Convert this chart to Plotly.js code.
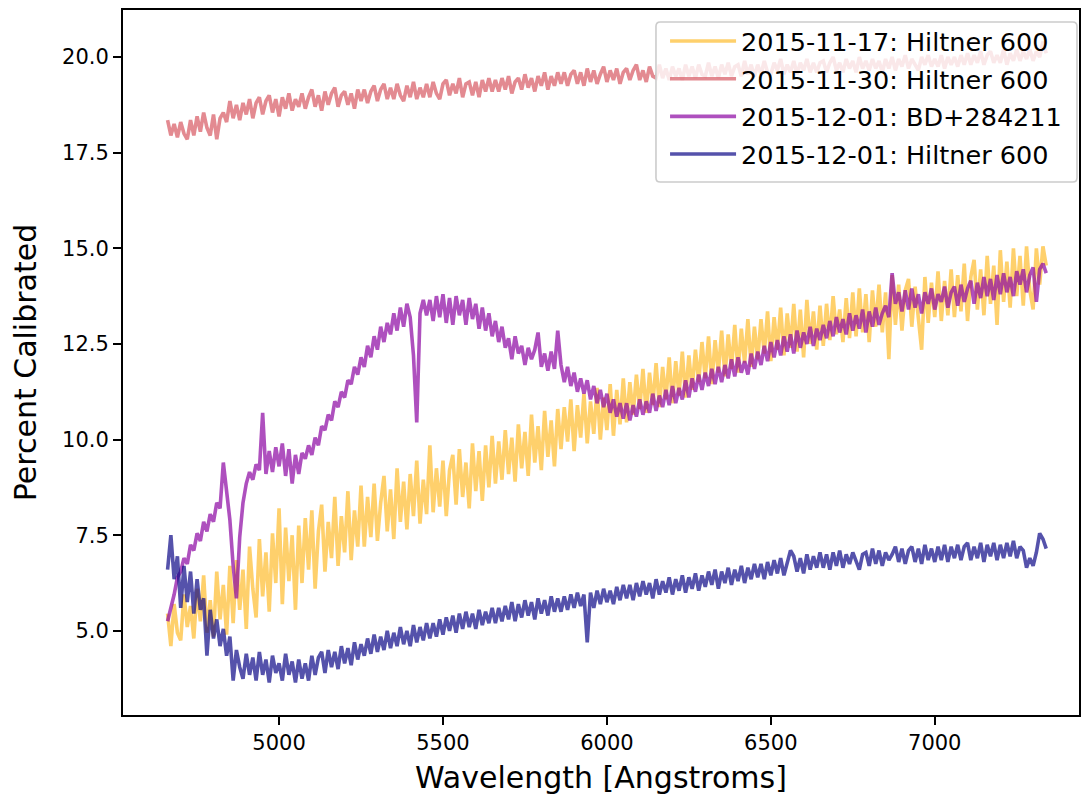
<!DOCTYPE html>
<html>
<head>
<meta charset="utf-8">
<script src="https://cdn.plot.ly/plotly-3.0.1.min.js"></script>
<style>
  html, body { margin: 0; padding: 0; background: #ffffff; }
  #chart { width: 1081px; height: 797px; }
</style>
</head>
<body>
<div id="chart"></div>
<script>
// Wavelength sampling grid (Angstroms)
const wlStart = 4660, wlStep = 10, wlEnd = 7340;
const wavelength = [];
for (let w = wlStart; w <= wlEnd; w += wlStep) wavelength.push(w);

const seriesNames = [
  "2015-11-17: Hiltner 600",
  "2015-11-30: Hiltner 600",
  "2015-12-01: BD+284211",
  "2015-12-01: Hiltner 600"
];

// 2015-11-17: Hiltner 600
const cal_20151117_hiltner = [
  5.45,4.60,5.70,4.95,4.75,5.95,5.10,5.65,4.80,6.10,5.25,6.45,4.95,5.80,4.85,6.55,5.30,6.20,4.90,6.70,
  5.20,6.85,5.55,6.60,5.05,7.20,6.10,5.35,7.40,5.90,7.05,5.50,7.55,6.25,8.20,5.70,7.70,6.30,7.50,5.55,
  7.75,6.25,7.95,6.60,8.15,6.10,7.60,8.30,6.55,7.85,6.90,8.50,6.70,8.00,7.05,8.65,6.85,8.15,7.20,8.80,
  7.20,8.50,7.45,8.85,7.35,8.35,9.05,7.60,8.70,7.40,9.25,7.85,8.90,7.65,9.10,8.00,9.45,7.80,8.95,8.05,
  9.85,8.10,9.25,8.25,9.45,8.00,9.20,9.60,8.30,9.75,8.50,9.40,8.20,9.90,8.65,9.70,8.40,9.85,8.75,10.10,
  8.85,9.95,8.95,10.25,9.10,10.05,8.90,10.40,9.25,10.20,9.05,10.65,9.40,10.35,9.20,10.75,9.55,10.50,9.30,10.80,
  9.75,10.85,9.95,11.05,9.70,10.90,10.05,11.20,9.90,11.00,10.15,11.35,10.00,11.10,10.25,11.45,10.10,11.30,10.40,11.60,
  10.45,11.50,10.65,11.70,10.80,11.85,10.70,11.75,10.90,12.00,10.85,11.90,11.05,12.15,10.95,12.05,11.15,12.30,11.10,12.20,
  11.30,12.35,11.50,12.55,11.60,12.70,11.45,12.60,11.75,12.85,11.65,12.75,11.85,13.00,11.75,12.90,12.00,13.15,11.90,12.95,
  12.10,13.15,12.25,13.35,12.05,13.20,12.35,13.45,12.20,13.30,12.40,13.55,12.30,13.40,12.15,13.65,12.50,13.35,12.35,13.50,
  12.45,13.55,12.60,13.75,12.75,13.40,12.55,13.70,12.65,13.85,12.70,13.95,12.80,13.80,12.55,13.90,12.95,14.05,12.80,13.85,
  12.10,14.30,13.00,14.05,12.85,13.90,14.20,12.95,14.00,13.15,12.35,14.25,13.05,14.10,13.20,14.40,13.10,14.15,13.25,14.45,
  13.20,14.30,13.35,14.60,13.10,14.25,14.70,13.40,14.45,13.25,14.80,13.55,14.55,13.00,14.95,13.60,14.65,13.45,15.00,13.75,
  14.80,13.50,15.05,13.90,13.40,15.00,14.05,15.05,14.55
];

// 2015-11-30: Hiltner 600
const cal_20151130_hiltner = [
  18.35,17.95,18.25,17.90,18.30,18.00,17.85,18.35,17.95,18.45,18.05,18.55,18.15,17.95,18.50,17.85,18.40,18.55,18.30,18.85,
  18.40,18.75,18.35,18.80,18.50,18.90,18.40,18.80,18.95,18.50,18.85,19.00,18.55,18.90,18.45,18.95,18.65,19.05,18.60,18.90,
  18.70,19.05,18.65,18.95,19.15,18.70,19.00,18.60,19.10,18.75,19.05,19.20,18.70,19.00,19.10,18.75,19.05,18.65,19.15,18.85,
  19.15,18.80,19.10,19.25,18.85,19.15,19.30,18.90,19.20,18.90,19.30,19.00,18.85,19.25,18.95,19.35,18.90,19.20,18.95,19.30,
  18.95,19.35,19.05,18.90,19.30,19.40,19.00,19.30,19.05,19.45,18.95,19.30,19.35,19.00,19.35,18.95,19.40,19.10,19.45,19.10,
  19.40,19.10,19.45,19.15,19.50,19.05,19.35,19.45,19.15,19.55,19.20,19.45,19.10,19.50,19.25,19.60,19.15,19.50,19.25,19.60,
  19.30,19.60,19.25,19.55,19.65,19.30,19.60,19.25,19.70,19.35,19.65,19.30,19.55,19.75,19.35,19.65,19.40,19.70,19.30,19.60,
  19.70,19.40,19.65,19.80,19.40,19.65,19.35,19.75,19.50,19.45,19.80,19.45,19.70,19.40,19.75,19.50,19.70,19.40,19.80,19.50,
  19.75,19.45,19.80,19.55,19.50,19.85,19.50,19.75,19.45,19.80,19.55,19.85,19.50,19.75,19.80,19.50,19.90,19.55,19.80,19.50,
  19.80,19.55,19.90,19.60,19.55,19.85,19.65,19.95,19.55,19.80,19.60,19.90,19.55,19.85,19.65,19.95,19.60,19.85,19.60,19.85,
  19.90,19.60,19.85,20.00,19.65,19.85,19.60,19.95,19.70,19.90,19.60,20.00,19.70,19.90,19.65,19.95,19.70,19.90,19.60,19.95,
  19.70,20.00,19.65,19.95,19.75,20.05,19.70,19.95,19.80,19.65,20.00,19.80,20.05,19.75,19.95,19.75,20.05,19.70,20.00,19.80,
  20.00,19.75,20.05,19.80,20.10,19.80,20.05,19.85,20.15,19.80,20.05,20.15,19.85,20.05,19.85,20.20,19.80,20.10,19.90,20.20,
  19.90,20.15,19.95,20.20,19.90,20.15,20.00,20.40,20.10
];

// 2015-12-01: BD+284211
const cal_20151201_bd284211 = [
  5.25,5.60,5.95,6.40,6.55,6.90,6.75,7.25,7.10,7.55,7.35,7.85,7.60,8.05,7.85,8.35,8.20,9.40,8.55,7.90,
  6.70,5.85,7.45,8.35,8.85,9.15,8.95,9.35,9.20,10.70,9.10,9.70,9.15,9.80,9.30,9.90,9.05,9.75,8.85,9.60,
  9.10,9.65,9.50,9.85,9.60,10.05,9.85,10.35,10.25,10.65,10.50,11.00,10.85,11.25,11.10,11.55,11.45,11.90,11.70,12.15,
  11.90,12.45,12.15,12.70,12.35,12.95,12.55,13.05,12.75,13.30,12.85,13.45,12.95,13.55,13.20,12.20,10.45,13.30,13.65,13.25,
  13.65,13.10,13.75,13.20,13.80,13.05,13.70,13.00,13.75,13.25,13.65,13.00,13.70,13.15,13.55,12.90,13.45,12.85,13.30,12.70,
  13.10,12.55,12.95,12.40,12.65,12.10,12.70,12.25,12.45,11.95,12.40,12.10,12.35,12.80,11.90,12.25,11.80,12.30,11.85,12.85,
  11.95,11.50,11.90,11.40,11.75,11.25,11.60,11.20,11.55,11.05,11.40,10.95,11.30,10.85,11.20,10.70,11.05,10.60,10.95,10.55,
  10.95,10.50,10.90,10.60,11.05,10.65,11.00,10.70,11.20,10.75,11.15,10.85,11.30,10.90,11.40,10.95,11.35,11.05,11.55,11.10,
  11.60,11.25,11.70,11.30,11.75,11.40,11.85,11.45,11.90,11.50,11.95,11.60,12.10,11.65,12.15,11.75,12.05,11.70,12.25,11.85,
  12.30,11.95,12.45,12.05,12.55,12.15,12.60,12.20,12.70,12.30,12.75,12.25,12.85,12.40,12.80,12.50,12.95,12.45,12.90,12.60,
  13.00,12.65,13.10,12.70,13.20,12.80,13.15,12.75,13.30,12.85,13.25,12.90,13.40,12.80,13.35,12.95,13.45,13.00,13.30,13.50,
  13.20,14.35,13.55,13.85,13.35,13.90,13.40,13.95,13.45,13.80,13.30,13.85,13.55,13.95,13.40,13.80,13.60,14.00,13.45,13.85,
  14.00,13.50,14.05,13.60,13.95,14.15,13.55,14.10,13.70,14.25,13.75,14.20,13.65,14.30,13.80,14.35,13.85,14.25,13.75,14.40,
  14.05,14.45,13.85,14.30,14.50,13.60,14.45,14.60,14.35
];

// 2015-12-01: Hiltner 600
const cal_20151201_hiltner = [
  6.60,7.50,6.35,6.95,5.60,6.70,5.75,6.55,5.45,6.35,5.55,5.85,4.35,5.55,4.80,5.30,4.60,5.05,4.35,4.85,
  3.70,4.50,4.05,3.75,4.40,3.85,4.30,3.70,4.45,3.85,4.25,3.65,4.35,3.90,4.15,3.70,4.40,3.85,4.20,3.65,
  4.25,3.75,4.15,3.70,4.35,3.85,4.30,4.45,3.90,4.50,4.05,4.45,4.00,4.60,4.15,4.55,4.10,4.70,4.25,4.65,
  4.35,4.80,4.40,4.90,4.45,4.85,4.50,5.00,4.55,4.95,4.60,5.10,4.65,5.00,4.60,5.15,4.70,5.10,4.75,5.20,
  4.80,5.20,4.85,5.30,4.90,5.35,5.00,5.40,4.95,5.45,5.05,5.50,5.10,5.45,5.05,5.55,5.15,5.50,5.20,5.60,
  5.20,5.60,5.25,5.65,5.30,5.75,5.25,5.70,5.35,5.80,5.40,5.75,5.30,5.85,5.45,5.80,5.40,5.90,5.50,5.85,
  5.50,5.90,5.55,5.95,5.60,6.00,5.65,5.95,4.70,6.00,5.60,6.05,5.70,6.10,5.75,6.05,5.70,6.15,5.80,6.20,
  5.85,6.20,5.80,6.25,5.90,6.30,5.95,6.25,5.85,6.35,5.95,6.30,6.00,6.40,5.95,6.35,6.05,6.45,6.00,6.40,
  6.10,6.50,6.05,6.45,6.15,6.55,6.20,6.60,6.10,6.55,6.25,6.65,6.20,6.60,6.30,6.70,6.25,6.65,6.35,6.75,
  6.40,6.75,6.35,6.80,6.45,6.85,6.50,6.90,6.45,6.80,7.10,6.95,6.55,6.90,6.50,7.00,6.60,6.95,6.65,7.05,
  6.65,7.00,6.60,7.05,6.70,7.10,6.65,7.00,6.75,7.05,6.80,6.60,7.00,7.05,6.70,7.15,6.75,7.10,6.70,7.05,
  6.85,7.00,7.20,6.80,7.15,6.75,7.10,7.20,6.80,7.15,6.75,7.25,6.85,7.15,6.80,7.20,6.85,7.25,6.80,7.20,
  6.90,7.25,6.85,7.20,7.30,6.85,7.20,6.90,7.30,6.80,7.25,6.95,7.30,6.85,7.25,6.90,7.30,6.95,7.35,6.90,
  7.20,7.10,6.65,6.90,6.70,7.05,7.55,7.40,7.15
];

const seriesValues = [cal_20151117_hiltner, cal_20151130_hiltner, cal_20151201_bd284211, cal_20151201_hiltner];
const seriesColors = [
  "rgba(253,188,45,0.7)",
  "rgba(215,88,99,0.7)",
  "rgba(139,5,162,0.7)",
  "rgba(13,8,135,0.7)"
];

const FONT = "DejaVu Sans, Liberation Sans, sans-serif";

const traces = seriesValues.map((vals, i) => ({
  type: "scatter",
  mode: "lines",
  x: wavelength,
  y: vals,
  name: seriesNames[i],
  legendgroup: "g" + i,
  line: { color: seriesColors[i], width: 3.6 }
}));

// Legend frame (rounded, semi-transparent, like a matplotlib legend), in paper coordinates
const fx0 = 0.5575, fx1 = 0.9979, fy0 = 0.7560, fy1 = 0.9830, rx = 0.0045, ry = 0.0062;
const framePath =
  `M ${fx0 + rx},${fy1} L ${fx1 - rx},${fy1} Q ${fx1},${fy1} ${fx1},${fy1 - ry} ` +
  `L ${fx1},${fy0 + ry} Q ${fx1},${fy0} ${fx1 - rx},${fy0} ` +
  `L ${fx0 + rx},${fy0} Q ${fx0},${fy0} ${fx0},${fy0 + ry} ` +
  `L ${fx0},${fy1 - ry} Q ${fx0},${fy1} ${fx0 + rx},${fy1} Z`;

const layout = {
  width: 1081,
  height: 797,
  margin: { l: 123, r: 2, t: 10, b: 82, pad: 0 },
  paper_bgcolor: "#ffffff",
  plot_bgcolor: "#ffffff",
  font: { family: FONT, size: 21, color: "#000000" },
  showlegend: true,
  legend: {
    x: 0.567, xanchor: "left",
    y: 0.9887, yanchor: "top",
    bgcolor: "rgba(0,0,0,0)",
    borderwidth: 0,
    itemwidth: 66,
    font: { family: FONT, size: 25.5, color: "#000000" },
    tracegroupgap: 1.5
  },
  shapes: [{
    type: "path", xref: "paper", yref: "paper", layer: "above",
    path: framePath,
    fillcolor: "rgba(255,255,255,0.8)",
    line: { color: "#cccccc", width: 1.6 }
  }],
  xaxis: {
    range: [4524, 7440],
    tick0: 0, dtick: 500,
    tickformat: "d",
    ticks: "outside", ticklen: 8, tickwidth: 2, tickcolor: "#000",
    showline: true, linecolor: "#000", linewidth: 2, mirror: true,
    showgrid: false, zeroline: false,
    tickfont: { family: FONT, size: 21, color: "#000" },
    title: { text: "Wavelength [Angstroms]", font: { family: FONT, size: 30, color: "#000" }, standoff: 13 }
  },
  yaxis: {
    range: [2.80, 21.23],
    tick0: 0, dtick: 2.5,
    tickformat: ".1f",
    ticks: "outside", ticklen: 8, tickwidth: 2, tickcolor: "#000",
    showline: true, linecolor: "#000", linewidth: 2, mirror: true,
    showgrid: false, zeroline: false,
    tickfont: { family: FONT, size: 21, color: "#000" },
    title: { text: "Percent Calibrated", font: { family: FONT, size: 30, color: "#000" }, standoff: 17 }
  }
};

Plotly.newPlot("chart", traces, layout, { displayModeBar: false, staticPlot: true });
</script>
</body>
</html>
